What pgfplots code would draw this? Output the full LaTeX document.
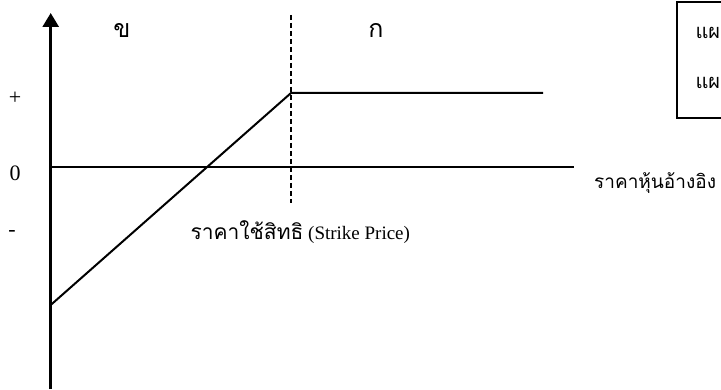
\documentclass[border=0pt]{standalone}
\usepackage{fontspec}
\setmainfont{Liberation Serif}
\newfontfamily\thaifont[Script=Thai]{Loma}
\usepackage{pgfplots}
\pgfplotsset{compat=1.18}
\usetikzlibrary{arrows.meta}

\begin{document}
\begin{tikzpicture}
    % page = 721 x 389 pt, one data unit = 1pt
    \path[use as bounding box] (0,0) rectangle (721pt,389pt);
    \begin{axis}[
        at={(0,0)}, anchor=south west,
        scale only axis,
        width=721pt, height=389pt,
        xmin=-50.7, xmax=670.3,
        ymin=-222, ymax=167,
        hide axis,
        clip=false
    ]
        % axes
        \draw[line width=2.8pt, -{Triangle[width=16pt,length=14pt]}]
            (axis cs:0,-222) -- (axis cs:0,154);
        \draw[line width=2pt] (axis cs:0,0) -- (axis cs:523.3,0);
        % strike price
        \draw[line width=1.8pt, dash pattern=on 5pt off 3pt]
            (axis cs:240.3,152) -- (axis cs:240.3,-36);

        % pay-off
        \addplot[black, line width=2pt, mark=none] coordinates {
            (0,-138)
            (240.3,74)
            (492.3,74)
        };

        \node[font=\fontsize{22}{24}\selectfont] at (axis cs:-35.7,69) {+};
        \node[font=\fontsize{22}{24}\selectfont] at (axis cs:-35.7,-6) {0};
        \node[font=\fontsize{22}{24}\selectfont] at (axis cs:-38.7,-66) {-};

        \node[font=\thaifont\fontsize{25}{27}\selectfont] at (axis cs:71.3,137) {ข};
        \node[font=\thaifont\fontsize{25}{27}\selectfont] at (axis cs:325.3,137) {ก};

        \node[anchor=west, inner sep=0pt, font=\thaifont\fontsize{19}{22}\selectfont]
            at (axis cs:543.3,-16) {ราคาหุ้นอ้างอิง};
        \node[anchor=west, font=\fontsize{19}{22}\selectfont]
            at (axis cs:136.3,-65) {{\thaifont\fontsize{21}{22}\selectfont ราคาใช้สิทธิ} (Strike Price)};

        % legend box, cut by the right edge as in the source
        \draw[line width=1.5pt] (axis cs:690,165) -- (axis cs:626.3,165)
            -- (axis cs:626.3,49) -- (axis cs:690,49);
        \node[anchor=west, font=\thaifont\fontsize{20}{22}\selectfont]
            at (axis cs:641.3,134) {แผนภาพ};
        \node[anchor=west, font=\thaifont\fontsize{20}{22}\selectfont]
            at (axis cs:641.3,84) {แผนภาพ};
    \end{axis}
\end{tikzpicture}
\end{document}
